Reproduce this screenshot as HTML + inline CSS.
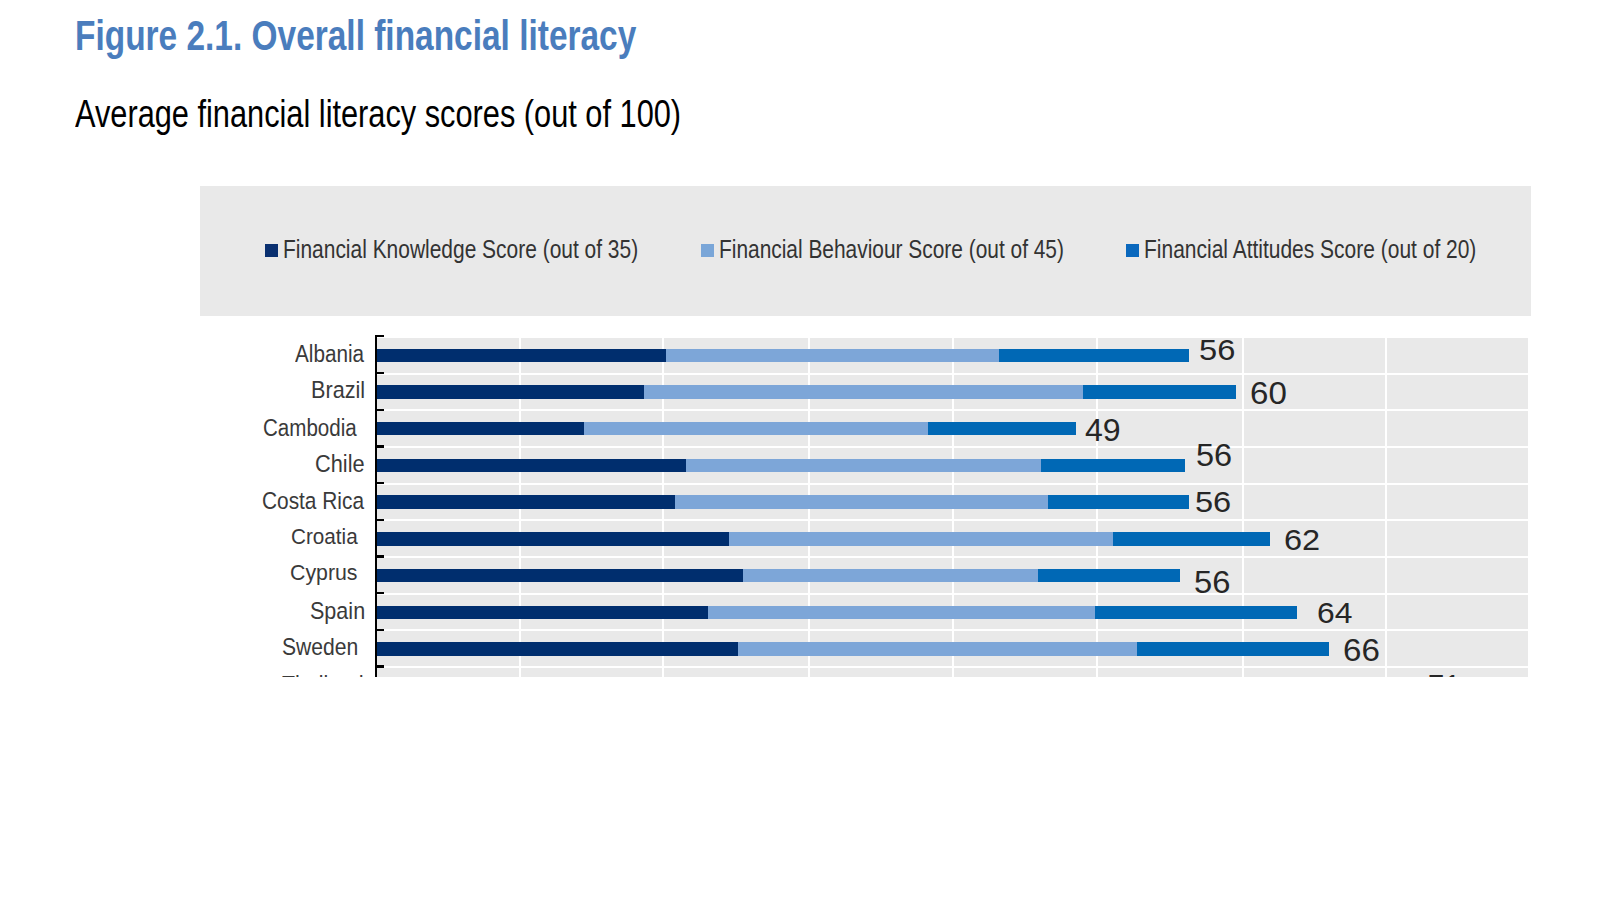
<!DOCTYPE html><html><head><meta charset="utf-8"><style>
html,body{margin:0;padding:0;background:#fff;width:1600px;height:900px;overflow:hidden}
body{position:relative;font-family:"Liberation Sans",sans-serif}
.t{position:absolute;white-space:nowrap;transform-origin:0 0}
.r{position:absolute}
</style></head><body>
<div class="r" style="left:200px;top:186px;width:1331px;height:129.5px;background:#e9e9e9"></div>
<div class="r" style="left:264.5px;top:243.5px;width:13px;height:13px;background:#0a3070"></div>
<div class="r" style="left:701.2px;top:243.5px;width:13px;height:13px;background:#7aa6d8"></div>
<div class="r" style="left:1126.0px;top:243.5px;width:13px;height:13px;background:#0a68bd"></div>
<div class="r" style="left:377px;top:338px;width:1151px;height:339px;background:#e9e9e9;overflow:hidden">
<div class="r" style="left:141.6px;top:0;width:2px;height:100%;background:#fff"></div>
<div class="r" style="left:285.3px;top:0;width:2px;height:100%;background:#fff"></div>
<div class="r" style="left:431.0px;top:0;width:2px;height:100%;background:#fff"></div>
<div class="r" style="left:574.6px;top:0;width:2px;height:100%;background:#fff"></div>
<div class="r" style="left:718.8px;top:0;width:2px;height:100%;background:#fff"></div>
<div class="r" style="left:864.6px;top:0;width:2px;height:100%;background:#fff"></div>
<div class="r" style="left:1008.2px;top:0;width:2px;height:100%;background:#fff"></div>
<div class="r" style="left:0;top:34.7px;width:100%;height:2px;background:#fff"></div>
<div class="r" style="left:0;top:71.3px;width:100%;height:2px;background:#fff"></div>
<div class="r" style="left:0;top:108.0px;width:100%;height:2px;background:#fff"></div>
<div class="r" style="left:0;top:144.7px;width:100%;height:2px;background:#fff"></div>
<div class="r" style="left:0;top:181.4px;width:100%;height:2px;background:#fff"></div>
<div class="r" style="left:0;top:218.0px;width:100%;height:2px;background:#fff"></div>
<div class="r" style="left:0;top:254.7px;width:100%;height:2px;background:#fff"></div>
<div class="r" style="left:0;top:291.4px;width:100%;height:2px;background:#fff"></div>
<div class="r" style="left:0;top:328.0px;width:100%;height:2px;background:#fff"></div>
</div>
<div class="r" style="left:377px;top:348.50px;width:289.0px;height:13.5px;background:#002e6e"></div>
<div class="r" style="left:666.0px;top:348.50px;width:332.6px;height:13.5px;background:#7da6d8"></div>
<div class="r" style="left:998.6px;top:348.50px;width:190.9px;height:13.5px;background:#0068b5"></div>
<div class="r" style="left:377px;top:385.22px;width:267.0px;height:13.5px;background:#002e6e"></div>
<div class="r" style="left:644.0px;top:385.22px;width:439.0px;height:13.5px;background:#7da6d8"></div>
<div class="r" style="left:1083.0px;top:385.22px;width:152.8px;height:13.5px;background:#0068b5"></div>
<div class="r" style="left:377px;top:421.94px;width:207.4px;height:13.5px;background:#002e6e"></div>
<div class="r" style="left:584.4px;top:421.94px;width:343.6px;height:13.5px;background:#7da6d8"></div>
<div class="r" style="left:928.0px;top:421.94px;width:148.4px;height:13.5px;background:#0068b5"></div>
<div class="r" style="left:377px;top:458.66px;width:309.0px;height:13.5px;background:#002e6e"></div>
<div class="r" style="left:686.0px;top:458.66px;width:355.0px;height:13.5px;background:#7da6d8"></div>
<div class="r" style="left:1041.0px;top:458.66px;width:143.8px;height:13.5px;background:#0068b5"></div>
<div class="r" style="left:377px;top:495.38px;width:298.0px;height:13.5px;background:#002e6e"></div>
<div class="r" style="left:675.0px;top:495.38px;width:372.6px;height:13.5px;background:#7da6d8"></div>
<div class="r" style="left:1047.6px;top:495.38px;width:141.9px;height:13.5px;background:#0068b5"></div>
<div class="r" style="left:377px;top:532.10px;width:352.0px;height:13.5px;background:#002e6e"></div>
<div class="r" style="left:729.0px;top:532.10px;width:384.0px;height:13.5px;background:#7da6d8"></div>
<div class="r" style="left:1113.0px;top:532.10px;width:157.0px;height:13.5px;background:#0068b5"></div>
<div class="r" style="left:377px;top:568.82px;width:366.0px;height:13.5px;background:#002e6e"></div>
<div class="r" style="left:743.0px;top:568.82px;width:294.6px;height:13.5px;background:#7da6d8"></div>
<div class="r" style="left:1037.6px;top:568.82px;width:142.4px;height:13.5px;background:#0068b5"></div>
<div class="r" style="left:377px;top:605.54px;width:330.6px;height:13.5px;background:#002e6e"></div>
<div class="r" style="left:707.6px;top:605.54px;width:387.4px;height:13.5px;background:#7da6d8"></div>
<div class="r" style="left:1095.0px;top:605.54px;width:202.0px;height:13.5px;background:#0068b5"></div>
<div class="r" style="left:377px;top:642.26px;width:361.4px;height:13.5px;background:#002e6e"></div>
<div class="r" style="left:738.4px;top:642.26px;width:398.6px;height:13.5px;background:#7da6d8"></div>
<div class="r" style="left:1137.0px;top:642.26px;width:191.6px;height:13.5px;background:#0068b5"></div>
<div class="r" style="left:374.8px;top:335px;width:2.6px;height:342px;background:#000;border-top-left-radius:2px"></div>
<div class="r" style="left:375px;top:335.1px;width:8.8px;height:2.4px;background:#000"></div>
<div class="r" style="left:375px;top:372.1px;width:8.8px;height:2.4px;background:#000"></div>
<div class="r" style="left:375px;top:408.7px;width:8.8px;height:2.4px;background:#000"></div>
<div class="r" style="left:375px;top:445.4px;width:8.8px;height:2.4px;background:#000"></div>
<div class="r" style="left:375px;top:482.1px;width:8.8px;height:2.4px;background:#000"></div>
<div class="r" style="left:375px;top:518.8px;width:8.8px;height:2.4px;background:#000"></div>
<div class="r" style="left:375px;top:555.4px;width:8.8px;height:2.4px;background:#000"></div>
<div class="r" style="left:375px;top:592.1px;width:8.8px;height:2.4px;background:#000"></div>
<div class="r" style="left:375px;top:628.8px;width:8.8px;height:2.4px;background:#000"></div>
<div class="r" style="left:375px;top:665.4px;width:8.8px;height:2.4px;background:#000"></div>
<div class="r" style="left:0;top:0;width:1600px;height:677px;overflow:hidden">
<div class="r" style="left:377px;top:678.98px;width:1030px;height:14px;background:#0068b5"></div>
<div class="t" style="left:282.00px;top:673.23px;font-size:24.42px;line-height:24.42px;color:#3a3a3a;font-weight:normal;transform:scaleX(0.8722)">Thailand</div>
<div class="t" style="left:1427.50px;top:671.16px;font-size:30.52px;line-height:30.52px;color:#262626;font-weight:normal;transform:scaleX(0.9575)">71</div>
</div>
<div class="t" style="left:75.00px;top:13.60px;font-size:42.59px;line-height:42.59px;color:#4a7dbd;font-weight:bold;transform:scaleX(0.7854)">Figure 2.1. Overall financial literacy</div>
<div class="t" style="left:75.42px;top:93.60px;font-size:39.10px;line-height:39.10px;color:#000000;font-weight:normal;transform:scaleX(0.7867)">Average financial literacy scores (out of 100)</div>
<div class="t" style="left:282.60px;top:236.73px;font-size:25.00px;line-height:25.00px;color:#333333;font-weight:normal;transform:scaleX(0.8379)">Financial Knowledge Score (out of 35)</div>
<div class="t" style="left:718.60px;top:236.73px;font-size:25.00px;line-height:25.00px;color:#333333;font-weight:normal;transform:scaleX(0.8358)">Financial Behaviour Score (out of 45)</div>
<div class="t" style="left:1143.60px;top:236.73px;font-size:25.00px;line-height:25.00px;color:#333333;font-weight:normal;transform:scaleX(0.8392)">Financial Attitudes Score (out of 20)</div>
<div class="t" style="left:294.82px;top:341.73px;font-size:24.42px;line-height:24.42px;color:#3a3a3a;font-weight:normal;transform:scaleX(0.8482)">Albania</div>
<div class="t" style="left:311.07px;top:377.52px;font-size:23.84px;line-height:23.84px;color:#3a3a3a;font-weight:normal;transform:scaleX(0.9083)">Brazil</div>
<div class="t" style="left:262.82px;top:416.56px;font-size:23.50px;line-height:23.50px;color:#3a3a3a;font-weight:normal;transform:scaleX(0.8753)">Cambodia</div>
<div class="t" style="left:315.06px;top:452.56px;font-size:23.50px;line-height:23.50px;color:#3a3a3a;font-weight:normal;transform:scaleX(0.9254)">Chile</div>
<div class="t" style="left:261.62px;top:488.63px;font-size:24.36px;line-height:24.36px;color:#3a3a3a;font-weight:normal;transform:scaleX(0.8560)">Costa Rica</div>
<div class="t" style="left:290.62px;top:525.63px;font-size:22.35px;line-height:22.35px;color:#3a3a3a;font-weight:normal;transform:scaleX(0.9256)">Croatia</div>
<div class="t" style="left:289.80px;top:561.70px;font-size:22.21px;line-height:22.21px;color:#3a3a3a;font-weight:normal;transform:scaleX(0.9599)">Cyprus</div>
<div class="t" style="left:309.51px;top:599.74px;font-size:23.64px;line-height:23.64px;color:#3a3a3a;font-weight:normal;transform:scaleX(0.9121)">Spain</div>
<div class="t" style="left:282.42px;top:635.74px;font-size:23.64px;line-height:23.64px;color:#3a3a3a;font-weight:normal;transform:scaleX(0.8931)">Sweden</div>
<div class="t" style="left:1199.07px;top:334.63px;font-size:30.09px;line-height:30.09px;color:#262626;font-weight:normal;transform:scaleX(1.0847)">56</div>
<div class="t" style="left:1249.87px;top:377.72px;font-size:31.40px;line-height:31.40px;color:#262626;font-weight:normal;transform:scaleX(1.0544)">60</div>
<div class="t" style="left:1085.41px;top:414.66px;font-size:30.52px;line-height:30.52px;color:#262626;font-weight:normal;transform:scaleX(1.0503)">49</div>
<div class="t" style="left:1196.39px;top:439.59px;font-size:30.67px;line-height:30.67px;color:#262626;font-weight:normal;transform:scaleX(1.0605)">56</div>
<div class="t" style="left:1195.14px;top:485.74px;font-size:30.38px;line-height:30.38px;color:#262626;font-weight:normal;transform:scaleX(1.0725)">56</div>
<div class="t" style="left:1284.20px;top:524.53px;font-size:29.80px;line-height:29.80px;color:#262626;font-weight:normal;transform:scaleX(1.0904)">62</div>
<div class="t" style="left:1194.32px;top:565.68px;font-size:31.98px;line-height:31.98px;color:#262626;font-weight:normal;transform:scaleX(1.0231)">56</div>
<div class="t" style="left:1317.32px;top:597.71px;font-size:29.94px;line-height:29.94px;color:#262626;font-weight:normal;transform:scaleX(1.0637)">64</div>
<div class="t" style="left:1342.79px;top:634.59px;font-size:30.67px;line-height:30.67px;color:#262626;font-weight:normal;transform:scaleX(1.0798)">66</div>
</body></html>
